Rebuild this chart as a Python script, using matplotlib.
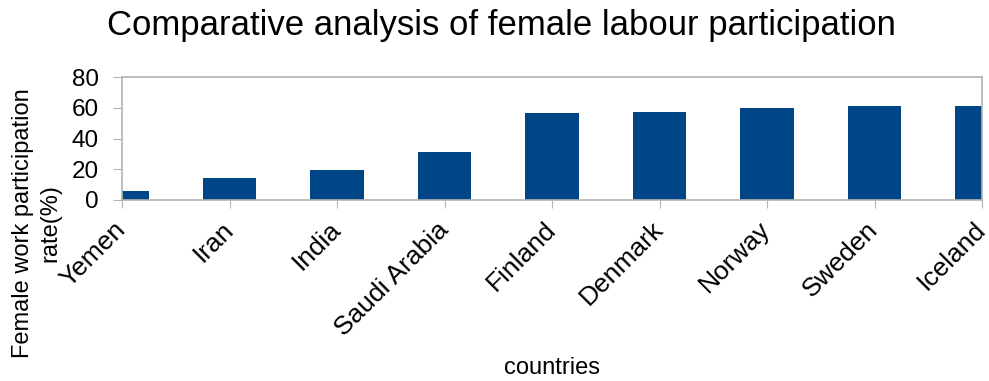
import matplotlib.pyplot as plt

plt.rcParams['font.family'] = ['Liberation Sans', 'DejaVu Sans']

countries = ['Yemen', 'Iran', 'India', 'Saudi Arabia', 'Finland',
             'Denmark', 'Norway', 'Sweden', 'Iceland']
participation = [6.0, 14.5, 19.3, 31.0, 56.4, 57.4, 60.0, 61.3, 61.3]
y_ticks = [0, 20, 40, 60, 80]

grey = '#b3b3b3'

fig = plt.figure(figsize=(9.89, 3.81), dpi=100)
ax = fig.add_axes([122 / 989, 1 - 200 / 381, 860 / 989, 123 / 381])

pos = list(range(len(countries)))
ax.bar(pos, participation, width=0.5, color='#004586', zorder=2)

ax.set_xlim(0, len(countries) - 1)
ax.set_ylim(0, 80)
ax.set_yticks(y_ticks)
ax.set_xticks(pos)
ax.set_xticklabels(countries, rotation=45, ha='right', va='center',
                   rotation_mode='anchor', fontsize=19)
ax.tick_params(axis='y', labelsize=17.5, length=6.5, color=grey, pad=10)
ax.tick_params(axis='x', length=6, color=grey, pad=12.5)

for side in ax.spines.values():
    side.set_color(grey)
    side.set_linewidth(1.2)

fig.text(0.507, 0.932, 'Comparative analysis of female labour participation',
         ha='center', va='center', fontsize=25)
fig.text(0.558, 0.033, 'countries', ha='center', va='center', fontsize=17)
fig.text(0.037, 0.415, 'Female work participation\nrate(%)', rotation=90,
         ha='center', va='center', multialignment='center', fontsize=17,
         linespacing=1.3)

fig.savefig('out.png', dpi=100)
